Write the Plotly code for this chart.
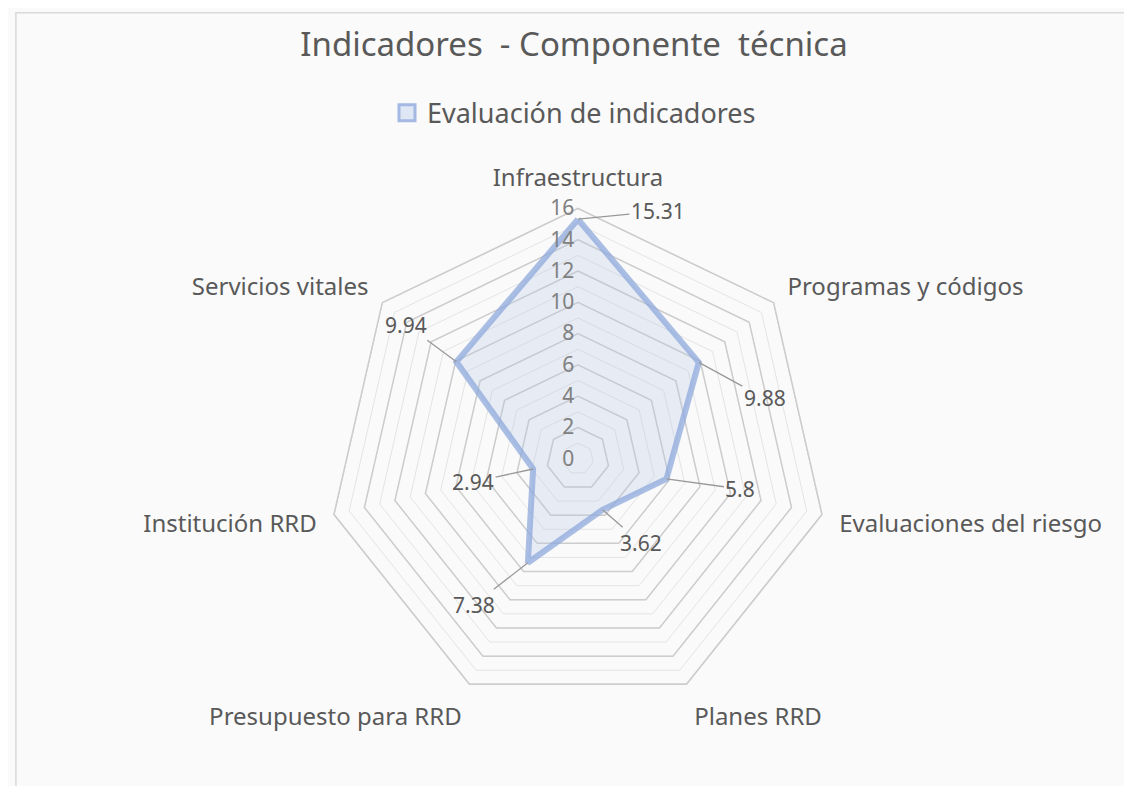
import math
import plotly.graph_objects as go

categorias = ["Infraestructura", "Programas y códigos", "Evaluaciones del riesgo",
              "Planes RRD", "Presupuesto para RRD", "Institución RRD", "Servicios vitales"]
valores = [15.31, 9.88, 5.8, 3.62, 7.38, 2.94, 9.94]
radial_ticks = list(range(0, 17))
radial_text = [str(v) if v % 2 == 0 else "" for v in radial_ticks]

W, H = 1132, 786
dom_x = [0.282, 0.725]
dom_y = [0.108, 0.745]
gris = "#595959"
fuente = "Noto Sans"

fig = go.Figure()

# anillos pares mas oscuros
for v in radial_ticks[2::2]:
    fig.add_trace(go.Scatterpolar(
        r=[v] * (len(categorias) + 1), theta=categorias + categorias[:1],
        mode="lines", line=dict(color="#cdcdcd", width=1.5),
        hoverinfo="skip", showlegend=False))

fig.add_trace(go.Scatterpolar(
    r=valores + valores[:1], theta=categorias + categorias[:1],
    mode="lines", fill="toself", name="Evaluación de indicadores",
    line=dict(color="rgba(143,170,220,0.75)", width=6),
    fillcolor="rgba(180,199,231,0.28)", showlegend=False))

# entrada de leyenda (cuadro)
fig.add_trace(go.Scatterpolar(
    r=[None], theta=[categorias[0]], mode="markers", name="Evaluación de indicadores",
    marker=dict(symbol="square", size=17, color="#dfe6f4",
                line=dict(color="#a3b8e2", width=3))))

fig.update_layout(
    width=W, height=H,
    paper_bgcolor="#fafafa",
    margin=dict(l=0, r=0, t=0, b=0),
    title=dict(text="Indicadores  - Componente  técnica", x=0.5, y=0.953,
               xanchor="center", yanchor="middle",
               font=dict(family=fuente, size=33, color=gris)),
    legend=dict(orientation="h", x=0.5, xanchor="center", y=0.866, yanchor="middle",
                font=dict(family=fuente, size=27, color=gris),
                bgcolor="rgba(0,0,0,0)", itemwidth=30),
    polar=dict(
        domain=dict(x=dom_x, y=dom_y),
        bgcolor="rgba(0,0,0,0)",
        gridshape="linear",
        radialaxis=dict(range=[0, 16], tickvals=radial_ticks, ticktext=radial_text,
                        angle=90, tickangle=90, side="counterclockwise",
                        showline=False, ticks="", gridcolor="#e4e4e4", gridwidth=1,
                        tickfont=dict(family=fuente, size=21, color="#808080")),
        angularaxis=dict(rotation=90, direction="clockwise", showgrid=False,
                         showline=True, linecolor="#cdcdcd", linewidth=1.5,
                         ticks="outside", ticklen=12, tickcolor="rgba(0,0,0,0)",
                         tickfont=dict(family=fuente, size=24, color=gris)),
    ),
)

# etiquetas de datos con linea guia
cx = (dom_x[0] + dom_x[1]) / 2 * W
cy = (1 - (dom_y[0] + dom_y[1]) / 2) * H
R = min((dom_x[1] - dom_x[0]) * W, (dom_y[1] - dom_y[0]) * H) / 2
offsets = [(80, -8), (66, 36), (74, 10), (38, 33), (-54, 42), (-60, 13), (-50, -37)]
n = len(categorias)
for i, (v, (ox, oy)) in enumerate(zip(valores, offsets)):
    a = 2 * math.pi * i / n
    px = cx + v / 16 * R * math.sin(a)
    py = cy - v / 16 * R * math.cos(a)
    fig.add_annotation(x=px / W, y=1 - py / H, xref="paper", yref="paper",
                       text=f"{v:g}", ax=ox, ay=oy, showarrow=True, arrowhead=0,
                       arrowwidth=1.3, arrowcolor="#999999", standoff=0,
                       font=dict(family=fuente, size=21, color=gris))

fig.add_shape(type="rect", xref="paper", yref="paper", x0=0.007, y0=0.005,
              x1=0.993, y1=0.994, line=dict(color="#d9d9d9", width=1.5))

fig.write_html("out.html")
